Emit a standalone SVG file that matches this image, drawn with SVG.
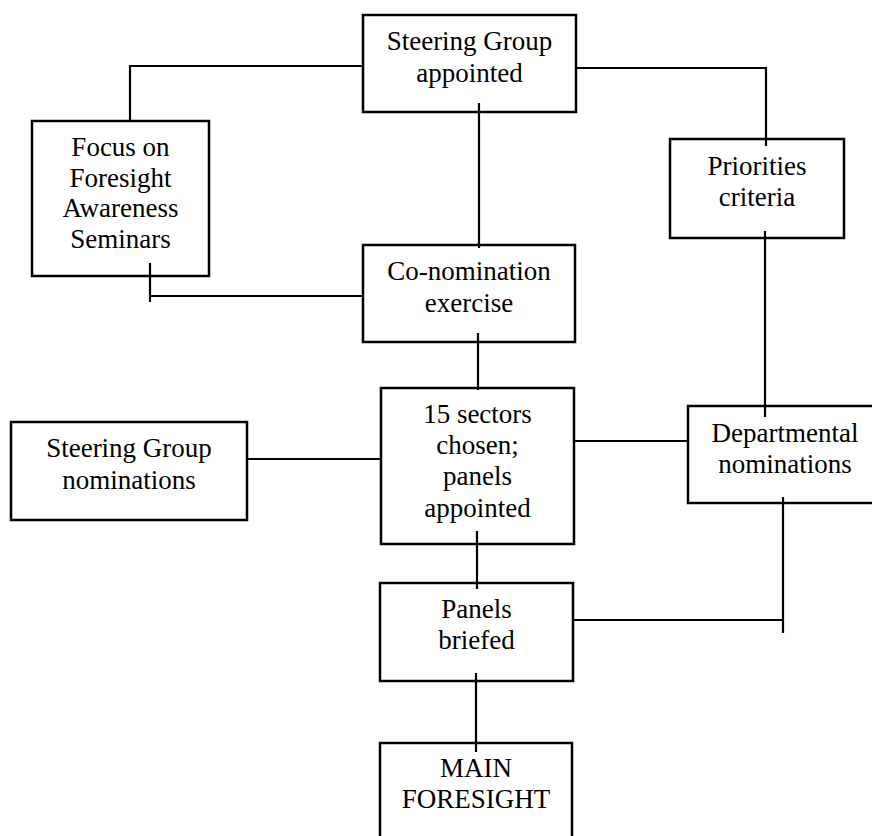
<svg xmlns="http://www.w3.org/2000/svg" width="872" height="836" viewBox="0 0 872 836">
<style>
.box{fill:#fff;stroke:#000;stroke-width:2.5}
.t{font-family:"Liberation Serif","Times New Roman",serif;font-size:27px;text-anchor:middle;fill:#000}
.c{fill:none;stroke:#000;stroke-width:2.2}
</style>
<rect width="872" height="836" fill="#fff"/>
<g id="nodes">
<g id="steering-appointed"><rect class="box" x="363" y="15" width="213" height="97"/><text class="t" x="469.5" y="50">Steering Group</text><text class="t" x="469.5" y="82">appointed</text></g>
<g id="focus"><rect class="box" x="32" y="121" width="177" height="155"/><text class="t" x="120.5" y="156">Focus on</text><text class="t" x="120.5" y="187">Foresight</text><text class="t" x="120.5" y="217">Awareness</text><text class="t" x="120.5" y="248">Seminars</text></g>
<g id="priorities"><rect class="box" x="670" y="139" width="174" height="99"/><text class="t" x="757" y="175">Priorities</text><text class="t" x="757" y="206">criteria</text></g>
<g id="conomination"><rect class="box" x="363" y="245" width="212" height="97"/><text class="t" x="469" y="280">Co-nomination</text><text class="t" x="469" y="312">exercise</text></g>
<g id="sectors"><rect class="box" x="381" y="388" width="193" height="156"/><text class="t" x="477.5" y="423">15 sectors</text><text class="t" x="477.5" y="454">chosen;</text><text class="t" x="477.5" y="485">panels</text><text class="t" x="477.5" y="517">appointed</text></g>
<g id="sg-nominations"><rect class="box" x="11" y="422" width="236" height="98"/><text class="t" x="129" y="457">Steering Group</text><text class="t" x="129" y="489">nominations</text></g>
<g id="departmental"><rect class="box" x="688" y="406" width="194" height="97"/><text class="t" x="785" y="442">Departmental</text><text class="t" x="785" y="473">nominations</text></g>
<g id="panels-briefed"><rect class="box" x="380" y="583" width="193" height="98"/><text class="t" x="476.5" y="618">Panels</text><text class="t" x="476.5" y="649">briefed</text></g>
<g id="main-foresight"><rect class="box" x="380" y="743" width="192" height="110"/><text class="t" x="476" y="777">MAIN</text><text class="t" x="476" y="808">FORESIGHT</text></g>
</g>
<g id="connectors">
<polyline class="c" points="363,66 130,66 130,121"/>
<polyline class="c" points="576,68 766,68 766,146"/>
<line class="c" x1="479" y1="103" x2="479" y2="248"/>
<line class="c" x1="150" y1="263" x2="150" y2="302"/>
<line class="c" x1="150" y1="296" x2="363" y2="296"/>
<line class="c" x1="765" y1="231" x2="765" y2="417"/>
<line class="c" x1="478" y1="333" x2="478" y2="390"/>
<line class="c" x1="574" y1="441" x2="688" y2="441"/>
<line class="c" x1="247" y1="459" x2="381" y2="459"/>
<line class="c" x1="477" y1="531" x2="477" y2="589"/>
<line class="c" x1="573" y1="620" x2="783" y2="620"/>
<line class="c" x1="783" y1="497" x2="783" y2="633"/>
<line class="c" x1="476" y1="673" x2="476" y2="752"/>
</g>
</svg>
